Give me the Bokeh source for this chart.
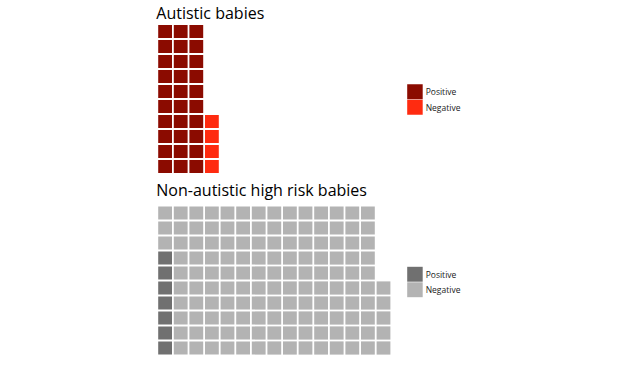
from bokeh.plotting import figure
from bokeh.models import ColumnDataSource, Range1d
from bokeh.core.properties import value
from bokeh.embed import file_html
from bokeh.resources import INLINE

# ---- data ----
panel_titles = ["Autistic babies", "Non-autistic high risk babies"]
legend_labels = ["Positive", "Negative"]
autistic_counts = [30, 4]          # positive, negative
nonautistic_counts = [7, 138]      # positive, negative
autistic_colors = ["#8B0B00", "#FF2B10"]
nonautistic_colors = ["#707070", "#B3B3B3"]
n_rows = 10

# ---- layout (pixels in canvas) ----
W, H = 604, 356
px, py = 15.6, 15.0
gap = 1.8
grid_left = 156.8
panels = [
    dict(title_y=12.0, grid_top=23.5, legend_top=83.5, counts=autistic_counts, colors=autistic_colors),
    dict(title_y=189.5, grid_top=205.0, legend_top=266.0, counts=nonautistic_counts, colors=nonautistic_colors),
]

p = figure(width=W, height=H, output_backend="svg", toolbar_location=None,
           x_range=Range1d(0, W), y_range=Range1d(H, 0),
           x_axis_location=None, y_axis_location=None, min_border=0,
           background_fill_color="white", border_fill_color="white")
p.outline_line_color = None
p.xgrid.visible = False
p.ygrid.visible = False

for title, panel in zip(panel_titles, panels):
    counts, colors = panel["counts"], panel["colors"]
    bottom = panel["grid_top"] + n_rows * py
    xs, ys, cs = [], [], []
    k = 0
    for cnt, col in zip(counts, colors):
        for _ in range(cnt):
            c, r = divmod(k, n_rows)
            xs.append(grid_left + (c + 0.5) * px)
            ys.append(bottom - (r + 0.5) * py)
            cs.append(col)
            k += 1
    src = ColumnDataSource(dict(x=xs, y=ys, color=cs))
    p.rect(x="x", y="y", width=px - gap, height=py - gap, source=src,
           fill_color="color", line_color=None)

    p.text(x=[grid_left - 1], y=[panel["title_y"]], text=[title],
           text_font=value("Open Sans"), text_font_size=value("16px"),
           text_color="#000000", text_baseline="alphabetic", text_align="left")

    # legend
    key = 15.5
    lx = 406.7
    ly = [panel["legend_top"] + i * key for i in range(len(legend_labels))]
    p.rect(x=[lx + key / 2] * 2, y=[y + key / 2 for y in ly], width=key, height=key - 0.6,
           fill_color=colors, line_color=None)
    p.text(x=[lx + key + 3] * 2, y=[y + key / 2 for y in ly], text=legend_labels,
           text_font=value("Open Sans"), text_font_size=value("8.5px"),
           text_color="#1a1a1a", text_baseline="middle", text_align="left")

open("out.html", "w").write(file_html(p, INLINE))
